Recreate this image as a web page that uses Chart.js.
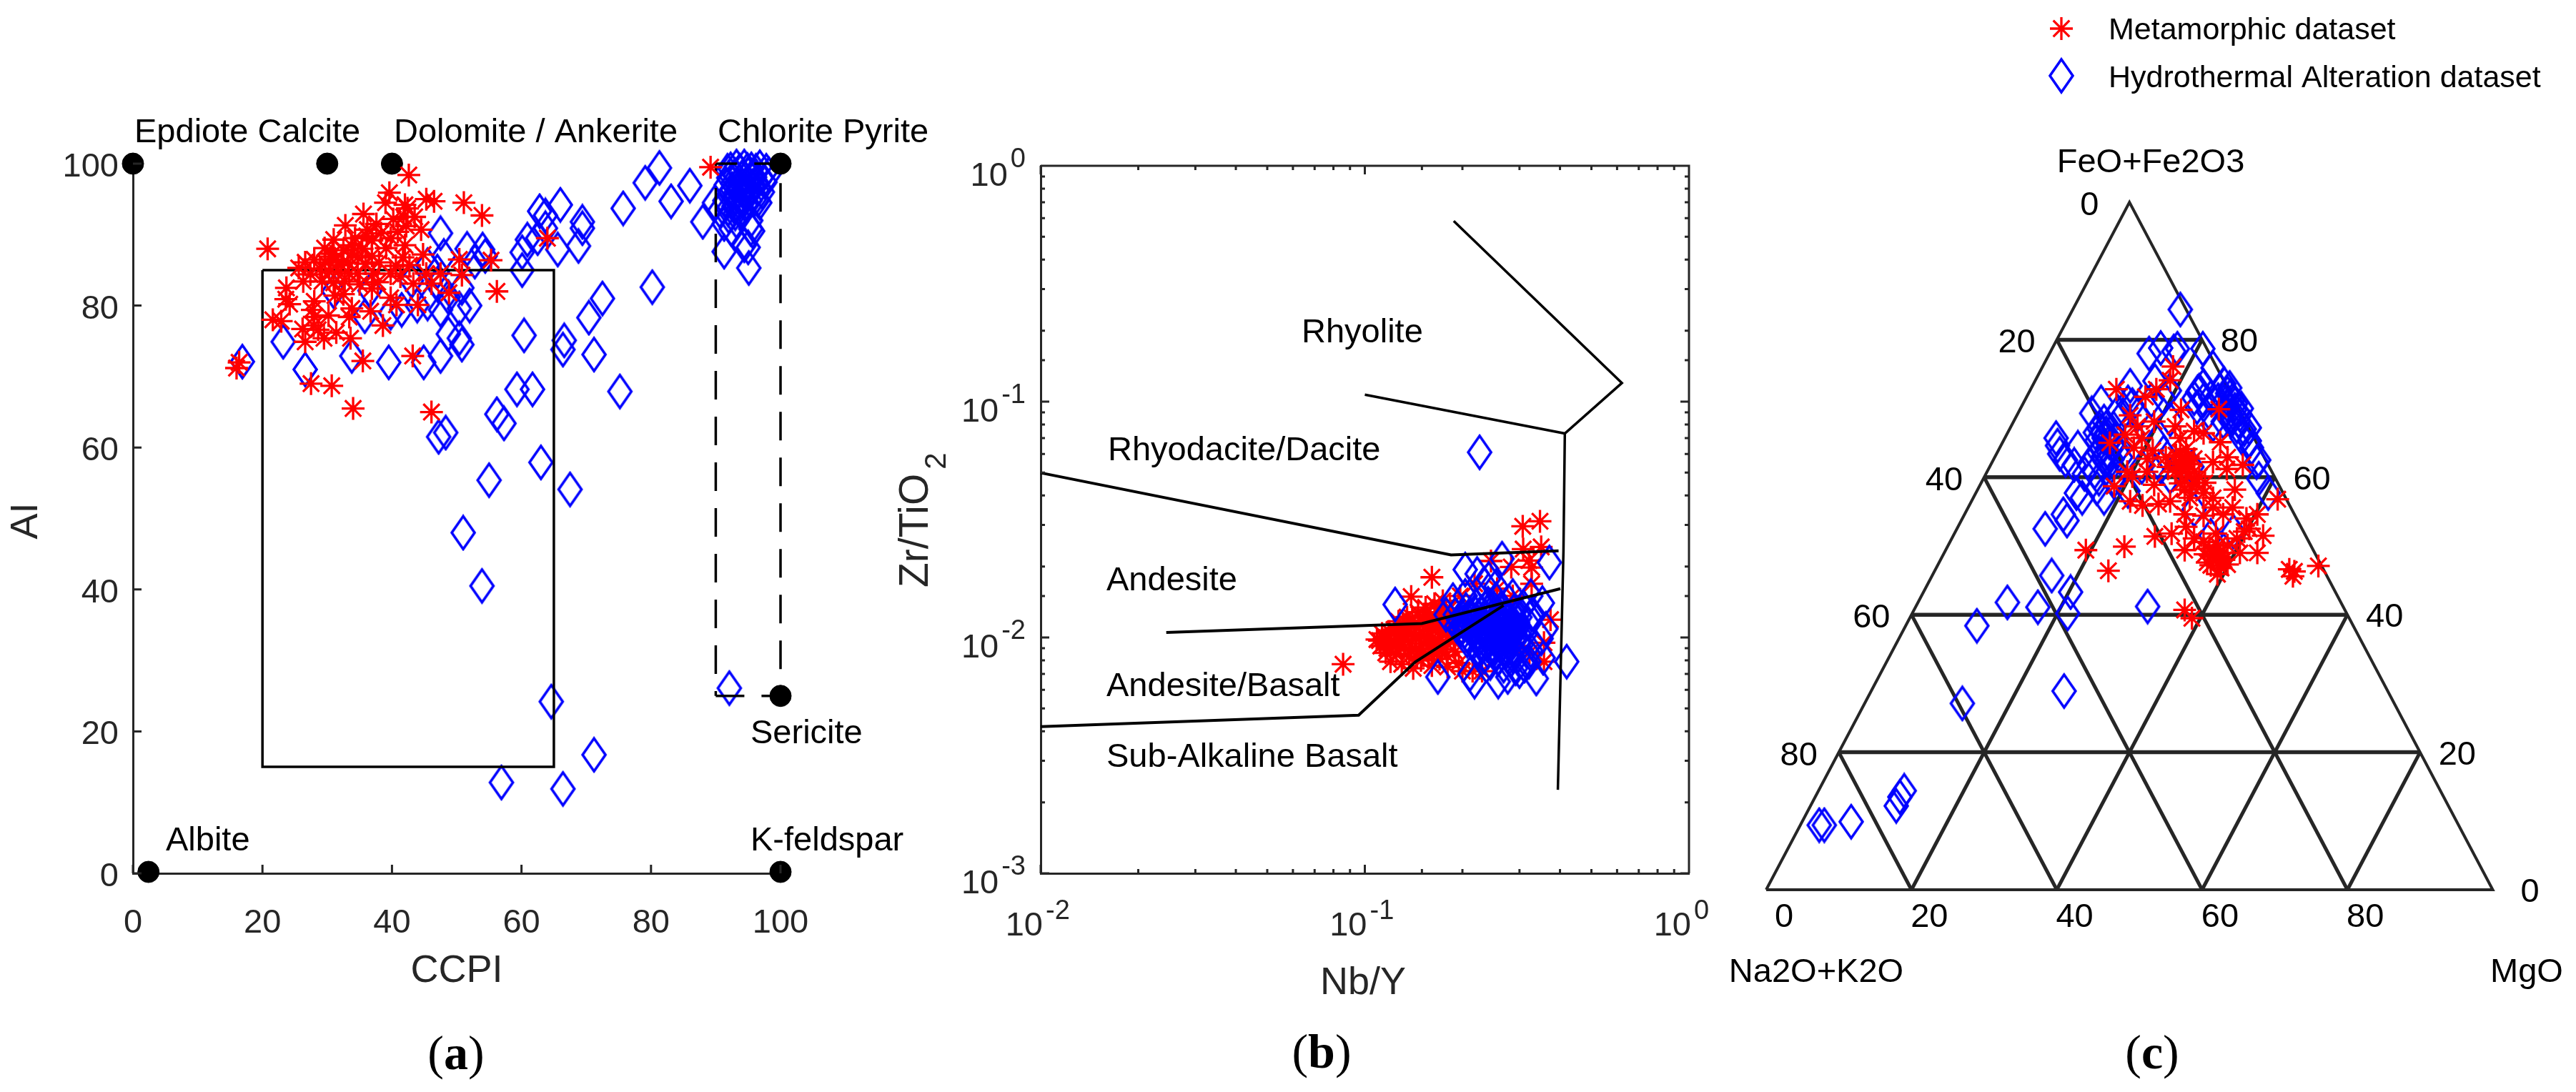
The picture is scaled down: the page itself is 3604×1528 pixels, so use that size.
<!DOCTYPE html>
<html>
<head>
<meta charset="utf-8">
<title>Alteration and geochemical plots</title>
<script src="https://cdn.jsdelivr.net/npm/chart.js@4"></script>
<style>
  body { margin: 0; background: #fff; }
  canvas { position: absolute; top: 0; }
</style>
</head>
<body>
<canvas id="box-plate" width="1340" height="1528" style="left:0"></canvas>
<canvas id="winchester-plot" width="1160" height="1528" style="left:1240px"></canvas>
<canvas id="ternary-plot" width="1204" height="1528" style="left:2400px"></canvas>
<script>
// (a) alteration box plate: [CCPI, AI]
const hydroBox = [
  [16.9,72.1],[23.2,74.9],[26.6,71],[33.8,72.9],[39.5,72],[44.9,72],[47.5,72.9],[50.8,74.5],[48.7,76],[50.4,75.4],
  [52,80],[50.4,79.6],[47.5,79.4],[45.5,80.3],[48.7,81.2],[41.5,79.4],[35.8,78.5],[39.8,79],[43.9,80],[36.6,82.1],
  [31,82],[43,83.5],[47.1,83],[50.8,82.5],[51.6,88],[54,87.9],[54.4,87],[52.8,86.2],[47.5,90.2],[48,87],
  [45.5,85.7],[47,84.8],[60.1,85],[60.1,87.5],[60.9,89.3],[62.5,89.5],[62.8,93.3],[63.7,92.7],[66,94.2],[63.7,90.9],
  [65.6,87.9],[68.8,88.4],[69.4,91.8],[69.4,90.9],[75.7,93.7],[79.1,97.3],[81.3,99.4],[83.1,94.7],[86,96.9],[88,91.8],
  [80.2,82.6],[72.5,81],[70.4,78.3],[60.4,75.8],[66.6,75.1],[66.4,73.8],[71.2,73.1],[59.3,68.2],[61.7,68.2],[75.2,67.9],
  [56.2,64.7],[57.3,63.4],[48.3,62.1],[47.2,61.5],[63,57.9],[55,55.4],[67.5,54.1],[51,48],[53.9,40.5],[64.6,24.2],
  [71.2,16.7],[56.9,12.8],[66.4,11.9],[92.1,26.1],
  [91.8,99],[93.2,99.6],[94.4,99.6],[95.5,99.2],[96.8,99.5],[97.8,99],[98.2,98.5],[92,98],[93,98.4],[94,98],
  [95,98.5],[96,98.1],[97,98],[97.6,97.4],[91.6,97],[92.6,97.2],[93.6,96.8],[94.6,97],[95.6,96.8],[96.6,96.6],
  [97.2,96],[92,95.6],[93,95.8],[94,95.4],[95,95.6],[96,95],[96.8,94.5],[91.3,87.6],[95.1,85.3],[89.8,94.5],
  [95.4,90.8],[95.7,90.5],[94.4,88.5],[95,88.2],[95.4,92],[96.5,94.9],[92,92.6],[93.2,91.9],[91.3,91.5],[92.4,90.8],
  [92.8,94],[93.8,93.2],[94.6,94.2],[90.6,93.4],[91.4,94.8],[92.3,99.2],[93.7,99],[94.9,99.1],[96.2,99],[92.5,96.4],
  [93.3,97],[94.3,96.2],[95.2,96.3],[96.3,97.4],[92.9,95.2],[93.5,94.6],[94.2,95],[95.3,94.8],[91.9,93.6],[93,93]
];
const metaBox = [
  [16,71.2],[16.4,72],[27.5,69],[30.7,68.7],[34,65.5],[46.1,65],[35.5,72.2],[43.2,72.9],[64,89.5],[89.2,99.5],
  [20.8,88],[42.6,98.4],[39.6,95.9],[39,94.5],[45.3,95],[46.5,94.7],[51.1,94.5],[53.9,92.7],[35.6,92.9],[32.8,91.3],
  [42,94.2],[42.4,93.7],[41.8,92.5],[40.2,92.2],[43.5,92.5],[44.5,90.7],[42.2,91.2],[31,89.3],[29.6,88.1],[34.3,89.5],
  [36.1,89.8],[38.3,90.2],[36.9,89.2],[39.8,89.5],[42,88.5],[39.1,88.1],[35.4,88],[32.5,87.8],[30.8,87.3],[28,86.5],
  [25.6,85.3],[26.6,86.1],[29.7,86.1],[31.4,86.5],[33.2,86.1],[34.7,86.8],[36.9,87],[38,86.1],[41.7,86.8],[44.8,87.2],
  [50.4,86.5],[55.3,86.4],[50.8,84.3],[47.5,84.5],[48.8,81.8],[56.2,82],[45.3,84.5],[46.1,83.1],[43.3,83.1],[44,80.1],
  [40.7,80.1],[39.8,81.1],[36.9,82.4],[33.4,84.5],[30.3,84.8],[31.7,84.8],[34.7,84.5],[37.2,84.5],[39.8,84.5],[41.3,84.1],
  [26.3,83.4],[23.7,82.5],[23.6,80.9],[24.2,80.2],[28,80.6],[31.2,81.4],[32.5,81.6],[36.7,79.2],[33.8,79.6],[33.4,78.4],
  [30.2,78.6],[28,78.4],[21.6,78],[22.9,77.8],[26.2,76.7],[27.9,77.2],[28.6,76.6],[31.4,76.2],[29.5,75.4],[26.6,74.9],
  [33.6,75.4],[38.6,77.2],[27.7,79.4],[30.5,86.9],[32.2,85.7],[33.9,87.4],[35.9,85.9],[28.9,85.2],[27.4,84.4],[29.2,83.4],
  [31,83.2],[32.7,83.4],[35,83],[37.8,83.3],[40.6,85.6],[42.7,85.7],[36.2,90.7],[37.6,91.5],[33.7,88.5],[40.9,90.4]
];
const mineralPoints = [[0,100],[30,100],[40,100],[100,100],[100,25],[2.4,0.2],[100,0.2]];
const leastAlteredBox = [[20,85],[65,85],[65,15],[20,15],[20,85]];
const chloriteBox = [[90,25],[100,25],[100,100],[90,100],[90,25]];

// (b) Winchester and Floyd: [Nb/Y, Zr/TiO2]
const hydroWinchester = [
  [.226,.061],[.124,.0138],[.168,.0068],[.4195,.0079],[.371,.0208],[.265,.0216],[.204,.0194],[.222,.0186],[.241,.0177],[.254,.0165],
  [.233,.0169],[.178,.0125],[.187,.0144],[.204,.015],[.286,.015],[.325,.015],[.353,.014],[.327,.0125],[.362,.0109],[.35,.0099],
  [.355,.0082],[.338,.0067],[.276,.0068],[.258,.0065],[.218,.0065],[.211,.007],[.3,.0072],[.311,.0076],[.321,.0079],
  [.19,.0125],[.195,.0118],[.198,.0108],[.205,.0131],[.206,.0113],[.208,.0101],[.212,.0124],[.215,.0094],[.217,.0107],[.22,.0136],
  [.221,.0117],[.225,.0088],[.226,.0099],[.229,.0128],[.231,.0109],[.233,.0083],[.236,.0121],[.238,.0093],[.24,.0139],[.242,.0104],
  [.244,.0078],[.246,.0115],[.248,.0087],[.25,.0127],[.252,.0097],[.254,.0145],[.256,.0108],[.258,.0081],[.26,.0119],[.262,.0091],
  [.264,.0134],[.266,.0101],[.268,.0076],[.27,.0113],[.272,.0086],[.274,.0125],[.276,.0095],[.278,.0142],[.28,.0106],[.282,.008],
  [.284,.0117],[.286,.0089],[.288,.0129],[.29,.0099],[.292,.0074],[.295,.011],[.298,.0084],[.301,.0122],[.304,.0093],[.308,.0135],
  [.312,.0103],[.316,.0078],[.32,.0114],[.325,.0088],[.33,.0126],[.2,.0122],[.21,.0116],[.218,.0128],[.223,.0104],[.228,.0094],
  [.235,.0112],[.241,.0098],[.247,.0122],[.251,.0091],[.257,.0114],[.263,.0096],[.269,.0122],[.273,.0104],[.279,.0092],[.283,.0111],
  [.288,.0097],[.293,.012],[.299,.0104],[.239,.0128],[.234,.0102],[.216,.0112],[.203,.0106],
  [.192,.0112],[.201,.0116],[.207,.0097],[.213,.0118],[.219,.0101],[.224,.0123],[.227,.0111],[.232,.0115],[.237,.0105],[.243,.0111],
  [.245,.0103],[.249,.0109],[.253,.0118],[.255,.01],[.259,.0106],[.261,.0124],[.265,.0109],[.267,.0116],[.271,.0098],[.275,.011],
  [.277,.0119],[.281,.0099],[.285,.0105],[.289,.0113],[.291,.0106],[.296,.0116],[.23,.0091],[.24,.0087],[.255,.0086],[.27,.009],
  [.285,.0084],[.3,.0097],[.22,.0109],[.236,.0133],[.25,.0133],[.265,.0128]
];
const metaWinchester = [
  [.0857,.0077],[.161,.018],[.139,.0149],[.111,.0097],[.307,.0296],[.347,.0311],[.308,.0237],[.35,.0242],[.245,.0211],[.283,.0199],
  [.327,.0198],[.327,.0169],[.321,.0212],[.374,.0119],[.357,.0095],[.357,.0079],[.286,.015],[.256,.0161],[.218,.0169],[.197,.015],
  [.3,.0092],[.322,.0086],
  [.109,.0098],[.112,.0092],[.113,.0104],[.116,.0086],[.118,.0099],[.12,.0079],[.121,.0093],[.123,.0108],[.125,.0085],[.127,.0117],
  [.128,.0098],[.13,.0077],[.132,.009],[.134,.0106],[.135,.0122],[.137,.0083],[.139,.0097],[.141,.0074],[.142,.0112],[.144,.0089],
  [.146,.0128],[.147,.0103],[.149,.008],[.151,.0118],[.152,.0094],[.154,.0134],[.156,.0108],[.157,.0085],[.159,.0123],[.161,.0076],
  [.162,.01],[.164,.0139],[.165,.0114],[.167,.009],[.169,.0128],[.17,.0081],[.172,.0105],[.174,.0143],[.176,.0119],[.178,.0095],
  [.18,.0075],[.183,.0133],[.186,.0111],[.19,.0087],[.195,.0078],[.2,.0072],[.215,.0072],[.23,.0072],
  [.115,.0095],[.119,.0106],[.124,.0091],[.129,.0104],[.133,.0097],[.136,.0114],[.138,.0088],[.143,.0101],[.145,.0082],[.148,.0113],
  [.15,.0087],[.153,.0124],[.155,.0099],[.158,.0093],[.16,.0113],[.163,.0086],[.166,.0122],[.168,.0097],[.171,.0133],[.173,.0089],
  [.175,.0111],[.177,.0127],[.179,.0084],[.182,.0102],[.185,.0122],[.188,.0096],[.14,.0121],[.131,.0113],[.126,.0102],[.117,.009]
];
const rhyoliteEdge = [[.188,.583],[.621,.12],[.414,.0733],[.1,.107]];
const alkaliEdge = [[.414,.0733],[.41,.0233],[.394,.00226]];
const daciteEdge = [[.01,.0499],[.1845,.0224],[.396,.0233]];
const andesiteEdge = [[.0244,.0105],[.15,.01146],[.401,.0161]];
const basaltEdge = [[.01,.00419],[.0957,.00468],[.143,.00787],[.268,.01368]];

// (c) ternary diagram, as [position along the base %, height %]
const hydroTernary = [
  [57,84.4],[52.7,78],[54.3,78.8],[56.1,78.3],[56.6,78.7],[60.1,78.7],[61.5,75.9],[53.5,74],[50.1,73.3],[55.5,72.6],
  [59.4,72.4],[60.2,73.3],[63,73.6],[63.5,72.2],[44.8,69.3],[46.1,70.9],[39.9,65.7],[40.1,64.6],[42.9,64.3],[40.4,63.4],
  [41.2,62.5],[42.4,61.8],[44.5,61.8],[42.7,57.7],[45.5,58.4],[46.5,57],[43.5,57],[40.9,54.6],[41.4,53.7],[38.4,52.5],
  [39.3,45.7],[41.9,43.3],[33.2,41.8],[37.4,41.1],[41.5,40.2],[29,38.4],[52.5,41.2],[65.8,67],[67.5,62.2],[67.8,59.8],
  [69.1,57.7],[27,27.1],[41,28.9],[19,14.4],[18.4,13.5],[17.9,12.2],[11.7,9.9],[7.3,9.4],[8,9.4],
  [45.8,67.1],[46.5,68.1],[46.8,66.4],[45.5,65.3],[46.1,64.3],[47.1,63.6],[47.8,64.6],[46.8,62.2],[48.4,63.9],[47.4,61.5],
  [47.8,67.1],[49.1,69.1],[50.4,70.5],[48.4,69.5],[46.5,65.7],[45.8,63.6],[45.2,60.8],[43.8,60.5],[47.8,59.4],[49.8,58],
  [45.8,59.8],[63.5,70.5],[64.2,71.2],[63.2,69.5],[64.5,69.8],[63.8,68.4],[62.9,68.1],[65.2,69.1],[64.8,67.4],[66.5,67.2],
  [65.5,65.7],[66.8,64.3],[67.8,62.5],[61.2,71.6],[59.6,72.6],[58.9,71.5],[60.2,71.2],[59.3,70.2],[60.9,69.5],[62.2,71.2],
  [62.5,72.6],[63.8,73],[61.5,67.7],[66.5,65.3],[53.7,65.3],[54.7,63.6],[54.3,61.5],[55.6,60.1],[54.7,71.5],[55.6,68.4],
  [58.6,61.5],[58.9,55.3],[64.3,52.1],[61.2,51.5],[53,71.2],[49.8,70.9],[51.1,69.1],[50.4,66.4],[48.8,62.9],[51.7,61.5],
  [46.3,66.6],[47.2,65.1],[46.4,63],[47.6,62.6],[45.3,66.5],[48.1,65.4],[63.9,71.8],[64.6,70.7],[65.4,70],[63,71],[64,69],[65,68.2]
];
const metaTernary = [
  [48.2,72.8],[56,76.1],[55.6,74.1],[53.7,72.8],[52.2,71.7],[62.3,69.9],[57.1,69.8],[50.1,69],[53.4,68.1],[51.1,67.4],
  [49.4,66.2],[47.3,65],[51.7,65.7],[50.6,64.3],[56.3,67.4],[58.9,66.7],[60.2,66.4],[62.5,65.1],[57,65.7],[53.2,63.9],
  [52.5,62.7],[61.5,62.2],[63.5,62.9],[65.6,61.8],[63.4,61.2],[49.7,60.8],[52.4,60.8],[47.9,58.7],[50.4,60.1],[53.4,58.9],
  [50.1,56.5],[51.8,55.9],[54,56.1],[55.6,56.5],[64.5,58.2],[70.4,56.8],[57,63.6],[57.6,62.5],[58.3,61.9],[57.3,61.2],
  [58,60.1],[56.3,60.8],[58.6,58.7],[58.9,60.8],[59.6,60.1],[57,59.1],[55.3,61.5],[55,62.9],[60.2,57.7],[61.5,57],
  [58.3,57],[64.2,55.6],[57.6,54.6],[60.2,54.4],[62.9,54.6],[61.5,55.6],[67.6,54.6],[66.1,54],[57.8,52.8],[68.4,51.5],
  [65.8,52.1],[66.5,52.5],[55.8,51.8],[53.5,51.4],[58.9,51.1],[60.2,50.6],[57.6,49.4],[61.9,51.8],[62.2,50.1],[61.5,48.7],
  [62.9,49],[63.5,50.1],[65.2,49],[67.6,49],[60.7,47.6],[62.2,47.6],[63.5,47.3],[62.1,45.9],[64.8,51.1],[44,49.4],
  [49.3,49.9],[47.1,46.4],[72,46.6],[72.7,46.3],[72.5,45.6],[76,47.1],[57.6,40.7],[58.6,39.5],
  [61,49.6],[61.8,49.2],[62.4,48.4],[60.4,48.8],[63,48],[61.2,47.2],[62.6,46.8],
  [56.4,63.2],[57.8,64.1],[58.1,63],[56.9,62.1],[58.9,62.7],[59.2,59.2],[57.6,58.2],[60.4,59.2]
];
const triangleEdge = [[0,0],[50,100],[100,0],[0,0]];
const gridLevels = [20, 40, 60, 80];

const seriesNames = ['Metamorphic dataset', 'Hydrothermal Alteration dataset'];
const leftTicks = ['0', '20', '40', '60', '80'];
const rightTicks = ['80', '60', '40', '20', '0'];
const baseTicks = ['0', '20', '40', '60', '80'];

const RED = '#ff0000';
const BLUE = '#0000ff';
const AXIS = '#262626';
const SANS = '"Liberation Sans", Arial, sans-serif';
const B_LEFT = 1240;

const toXY = list => list.map(p => ({ x: p[0], y: p[1] }));

// MATLAB draws a taller diamond than rectRot gives
function makeDiamond() {
    const c = document.createElement('canvas');
    c.width = 38;
    c.height = 52;
    const g = c.getContext('2d');
    g.strokeStyle = BLUE;
    g.lineWidth = 3.6;
    g.lineJoin = 'miter';
    g.beginPath();
    g.moveTo(19, 3);
    g.lineTo(35, 26);
    g.lineTo(19, 49);
    g.lineTo(3, 26);
    g.closePath();
    g.stroke();
    return c;
}
const diamond = makeDiamond();

function hydroSet(list, order) {
    return {
        label: seriesNames[1], data: toXY(list), order: order, clip: false,
        pointStyle: diamond, pointRadius: 20
    };
}
function metaSet(list, order) {
    return {
        label: seriesNames[0], data: toXY(list), order: order, clip: false,
        pointStyle: 'star', pointRadius: 16, borderColor: RED, pointBorderWidth: 3.3
    };
}
function lineSet(list, order, width, dash) {
    return {
        data: toXY(list), order: order, showLine: true, pointRadius: 0, clip: false,
        borderColor: '#000', borderWidth: width, borderDash: dash || [], borderJoinStyle: 'miter'
    };
}

function drawText(ctx, text, x, y, font, align, color) {
    ctx.font = font;
    ctx.textAlign = align || 'left';
    ctx.textBaseline = 'middle';
    ctx.fillStyle = color || '#000';
    ctx.fillText(text, x, y);
}

function drawInwardTicks(chart, mirror) {
    const ctx = chart.ctx;
    const a = chart.chartArea;
    ctx.save();
    ctx.strokeStyle = AXIS;
    ctx.lineWidth = 3;
    const isMajor = v => Math.abs(Math.log10(v) - Math.round(Math.log10(v))) < 1e-6;
    ctx.beginPath();
    chart.scales.x.ticks.forEach(t => {
        const px = chart.scales.x.getPixelForValue(t.value);
        const len = chart.scales.x.type === 'logarithmic' && !isMajor(t.value) ? 6 : 12;
        ctx.moveTo(px, a.bottom);
        ctx.lineTo(px, a.bottom - len);
        if (mirror) {
            ctx.moveTo(px, a.top);
            ctx.lineTo(px, a.top + len);
        }
    });
    chart.scales.y.ticks.forEach(t => {
        const py = chart.scales.y.getPixelForValue(t.value);
        const len = chart.scales.y.type === 'logarithmic' && !isMajor(t.value) ? 6 : 12;
        ctx.moveTo(a.left, py);
        ctx.lineTo(a.left + len, py);
        if (mirror) {
            ctx.moveTo(a.right, py);
            ctx.lineTo(a.right - len, py);
        }
    });
    if (mirror) {
        ctx.moveTo(a.left, a.top);
        ctx.lineTo(a.right, a.top);
        ctx.lineTo(a.right, a.bottom);
    }
    ctx.stroke();
    ctx.restore();
}

function drawPanelTag(ctx, letter, x, y) {
    const plain = '68px "Liberation Serif", serif';
    const bold = 'bold 68px "Liberation Serif", serif';
    ctx.font = bold;
    const w = ctx.measureText(letter).width;
    ctx.font = plain;
    const p = ctx.measureText('(').width;
    drawText(ctx, '(', x - w / 2 - p, y, plain);
    drawText(ctx, letter, x - w / 2, y, bold);
    drawText(ctx, ')', x + w / 2, y, plain);
}

const fitWidth = w => ({ afterFit: s => { s.width = w; } });
const fitHeight = h => ({ afterFit: s => { s.height = h; } });

// (a)
new Chart(document.querySelector('#box-plate').getContext('2d'), {
    type: 'scatter',
    data: {
        datasets: [
            hydroSet(hydroBox, 5),
            lineSet(leastAlteredBox, 3, 3.5),
            lineSet(chloriteBox, 3, 3.5, [40, 24]),
            {
                data: toXY(mineralPoints), order: 2, clip: false,
                pointStyle: 'circle', pointRadius: 15, backgroundColor: '#000', borderColor: '#000'
            },
            metaSet(metaBox, 1)
        ]
    },
    options: {
        responsive: false,
        animation: false,
        devicePixelRatio: 1,
        layout: { padding: { top: 229, right: 248 } },
        plugins: { legend: { display: false }, tooltip: { enabled: false } },
        scales: {
            x: {
                min: 0, max: 100, ...fitHeight(306),
                ticks: { stepSize: 20, padding: 34, color: AXIS, font: { family: SANS, size: 47 }, maxRotation: 0 },
                grid: { display: false },
                border: { color: AXIS, width: 3 }
            },
            y: {
                min: 0, max: 100, ...fitWidth(186),
                ticks: { stepSize: 20, display: false },
                grid: { display: false },
                border: { color: AXIS, width: 3 }
            }
        }
    },
    plugins: [{
        id: 'boxPlateText',
        afterDraw(chart) {
            const ctx = chart.ctx;
            drawInwardTicks(chart, false);
            const f = '47px ' + SANS;
            chart.scales.y.ticks.forEach(t => {
                drawText(ctx, String(t.value), 166, chart.scales.y.getPixelForValue(t.value) + 5, f, 'right', AXIS);
            });
            drawText(ctx, 'Epdiote Calcite', 188, 186, f);
            drawText(ctx, 'Dolomite / Ankerite', 551, 186, f);
            drawText(ctx, 'Chlorite Pyrite', 1004, 186, f);
            drawText(ctx, 'Sericite', 1050, 1027, f);
            drawText(ctx, 'Albite', 232, 1177, f);
            drawText(ctx, 'K-feldspar', 1050, 1177, f);
            drawText(ctx, 'CCPI', 639, 1359, '54px ' + SANS, 'center', AXIS);
            ctx.save();
            ctx.translate(37, 729);
            ctx.rotate(-Math.PI / 2);
            drawText(ctx, 'AI', 0, 0, '54px ' + SANS, 'center', AXIS);
            ctx.restore();
            drawPanelTag(ctx, 'a', 638, 1478);
        }
    }]
});

// (b)
new Chart(document.querySelector('#winchester-plot').getContext('2d'), {
    type: 'scatter',
    data: {
        datasets: [
            metaSet(metaWinchester, 5),
            hydroSet(hydroWinchester, 4),
            lineSet(rhyoliteEdge, 1, 3.5),
            lineSet(alkaliEdge, 1, 3.5),
            lineSet(daciteEdge, 1, 4),
            lineSet(andesiteEdge, 1, 4),
            lineSet(basaltEdge, 1, 4)
        ]
    },
    options: {
        responsive: false,
        animation: false,
        devicePixelRatio: 1,
        layout: { padding: { top: 232, right: 37 } },
        plugins: { legend: { display: false }, tooltip: { enabled: false } },
        scales: {
            x: {
                type: 'logarithmic', min: 0.01, max: 1, ...fitHeight(306),
                ticks: { display: false, autoSkip: false },
                grid: { display: false },
                border: { color: AXIS, width: 3 }
            },
            y: {
                type: 'logarithmic', min: 0.001, max: 1, ...fitWidth(1456 - B_LEFT),
                ticks: { display: false, autoSkip: false },
                grid: { display: false },
                border: { color: AXIS, width: 3 }
            }
        }
    },
    plugins: [{
        id: 'winchesterText',
        afterDraw(chart) {
            const ctx = chart.ctx;
            drawInwardTicks(chart, true);
            const big = '47px ' + SANS;
            const small = '38px ' + SANS;
            const powers = s => s.ticks.filter(t => Math.abs(Math.log10(t.value) - Math.round(Math.log10(t.value))) < 1e-6);
            powers(chart.scales.x).forEach(t => {
                const px = chart.scales.x.getPixelForValue(t.value);
                drawText(ctx, '10', px + 3, 1296, big, 'right', AXIS);
                drawText(ctx, String(Math.round(Math.log10(t.value))), px + 7, 1276, small, 'left', AXIS);
            });
            powers(chart.scales.y).forEach(t => {
                const py = chart.scales.y.getPixelForValue(t.value);
                const exp = String(Math.round(Math.log10(t.value)));
                ctx.font = small;
                const w = ctx.measureText(exp).width;
                const right = chart.chartArea.left - 21;
                drawText(ctx, exp, right, py - 8, small, 'right', AXIS);
                drawText(ctx, '10', right - w - 4, py + 15, big, 'right', AXIS);
            });

            ctx.save();
            ctx.translate(-B_LEFT, 0);
            const f = '47px ' + SANS;
            drawText(ctx, 'Rhyolite', 1821, 466, f);
            drawText(ctx, 'Rhyodacite/Dacite', 1550, 631, f);
            drawText(ctx, 'Andesite', 1548, 813, f);
            drawText(ctx, 'Andesite/Basalt', 1548, 961, f);
            drawText(ctx, 'Sub-Alkaline Basalt', 1548, 1060, f);
            drawText(ctx, 'Nb/Y', 1907, 1376, '54px ' + SANS, 'center', AXIS);
            drawPanelTag(ctx, 'b', 1849, 1476);

            // rotated axis name with the subscript 2
            ctx.translate(1298, 822);
            ctx.rotate(-Math.PI / 2);
            ctx.textAlign = 'left';
            ctx.textBaseline = 'alphabetic';
            ctx.fillStyle = AXIS;
            ctx.font = '57px ' + SANS;
            const main = 'Zr/TiO';
            const mw = ctx.measureText(main).width;
            ctx.fillText(main, 0, 0);
            ctx.font = '42px ' + SANS;
            ctx.fillText('2', mw + 6, 25);
            ctx.restore();
        }
    }]
});

// (c)
const ternaryLines = [];
gridLevels.forEach(h => {
    // horizontal at height h, then the two slanted lines that start on the base
    ternaryLines.push(lineSet([[h / 2, h], [100 - h / 2, h]], 6, 5.5));
    ternaryLines.push(lineSet([[h, 0], [50 + h / 2, 100 - h]], 6, 5));
    ternaryLines.push(lineSet([[h, 0], [h / 2, h]], 6, 5));
});
ternaryLines.forEach(s => { s.borderColor = AXIS; });

new Chart(document.querySelector('#ternary-plot').getContext('2d'), {
    type: 'scatter',
    data: {
        datasets: [
            ...ternaryLines,
            Object.assign(lineSet(triangleEdge, 5, 4), { borderColor: AXIS }),
            hydroSet(hydroTernary, 3),
            metaSet(metaTernary, 1)
        ]
    },
    options: {
        responsive: false,
        animation: false,
        devicePixelRatio: 1,
        layout: { padding: { left: 71, right: 116.5, top: 283, bottom: 283 } },
        plugins: { legend: { display: false }, tooltip: { enabled: false } },
        scales: {
            x: { min: 0, max: 100, display: false },
            y: { min: 0, max: 100, display: false }
        }
    },
    plugins: [{
        id: 'ternaryText',
        afterDraw(chart) {
            const ctx = chart.ctx;
            const sx = chart.scales.x;
            const sy = chart.scales.y;
            const f = '47px ' + SANS;
            leftTicks.forEach((t, i) => {
                const h = 100 - i * 20;
                drawText(ctx, t, sx.getPixelForValue(h / 2) - 56, sy.getPixelForValue(h) + 5, f, 'center');
            });
            rightTicks.forEach((t, i) => {
                const h = 80 - i * 20;
                drawText(ctx, t, sx.getPixelForValue(100 - h / 2) + 52, sy.getPixelForValue(h) + 4, f, 'center');
            });
            baseTicks.forEach((t, i) => {
                drawText(ctx, t, sx.getPixelForValue(i * 20) + 25, 1284, f, 'center');
            });
            ctx.save();
            ctx.translate(-2400, 0);
            drawText(ctx, 'FeO+Fe2O3', 3009, 228, f, 'center');
            drawText(ctx, 'Na2O+K2O', 2541, 1361, f, 'center');
            drawText(ctx, 'MgO', 3535, 1361, f, 'center');
            const lf = '43px ' + SANS;
            drawText(ctx, seriesNames[0], 2950, 43, lf);
            drawText(ctx, seriesNames[1], 2950, 110, lf);
            ctx.strokeStyle = RED;
            ctx.lineWidth = 3.3;
            Chart.helpers.drawPoint(ctx, { pointStyle: 'star', radius: 16, borderWidth: 3.3 }, 2884, 40);
            Chart.helpers.drawPoint(ctx, { pointStyle: diamond, radius: 20, borderWidth: 0 }, 2884, 106);
            drawPanelTag(ctx, 'c', 3011, 1477);
            ctx.restore();
        }
    }]
});
</script>
</body>
</html>
